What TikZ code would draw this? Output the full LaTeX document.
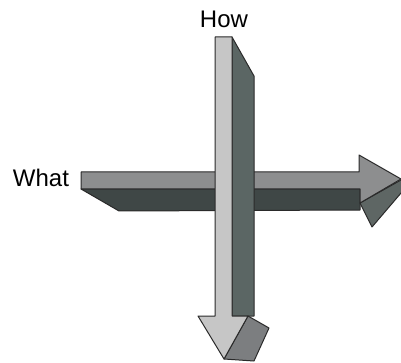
\documentclass[tikz,border=0pt]{standalone}
\usepackage{fontspec}
\setmainfont{Liberation Sans}
\definecolor{hlight}{HTML}{8D8E8F}
\definecolor{hdark}{HTML}{3F4746}
\definecolor{vlight}{HTML}{C6C6C6}
\definecolor{vdark}{HTML}{5B6664}
\definecolor{hhead}{HTML}{5E6664}
\definecolor{vhead}{HTML}{7C7E80}
\definecolor{edge}{HTML}{2A2A2A}
\begin{document}
\begin{tikzpicture}[x=1pt,y=-1pt, line join=round,
	face/.style={draw=edge,line width=1pt},
	lbl/.style={font=\fontsize{24}{28}\selectfont,anchor=base,inner sep=0pt}]
	\useasboundingbox (0,0) rectangle (401,363);
	\begin{scope}
	\clip (0,0) rectangle (401,363);
	% horizontal arrow (What)
	\draw[face,fill=hdark] (81,189)--(360,189)--(360,210)--(119,211)--cycle;
	\draw[face,fill=hhead] (360,203)--(401,180)--(407,186)--(372,227)--cycle;
	\draw[face,fill=hlight] (81,172)--(359,172)--(359,155)--(401,179)--(360,203)--(360,189)--(81,189)--cycle;
	% vertical arrow (How)
	\draw[face,fill=vdark] (232,37)--(254,76)--(254,316)--(232,316)--cycle;
	\draw[face,fill=vhead] (248,316)--(269,328)--(254,361)--(224,359)--cycle;
	\draw[face,fill=vlight] (215,37)--(232,37)--(232,316)--(248,316)--(224,359)--(198,316)--(215,316)--cycle;
	\end{scope}
	\node[lbl] (how) at (224,28) {How};
	\node[lbl] (what) at (41,187) {What};
\end{tikzpicture}
\end{document}
